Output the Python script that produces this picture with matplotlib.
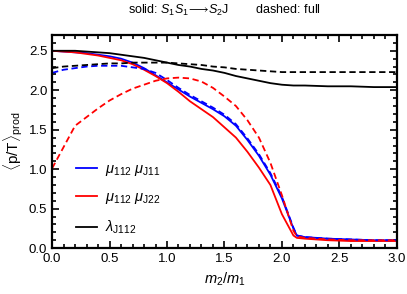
import numpy as np
from matplotlib import pyplot as plt
from matplotlib.ticker import MultipleLocator

plt.rcParams['font.family'] = ['Liberation Sans', 'DejaVu Sans']
plt.rcParams['mathtext.fontset'] = 'custom'
plt.rcParams['mathtext.rm'] = 'Liberation Sans'
plt.rcParams['mathtext.it'] = 'Liberation Sans:italic'
plt.rcParams['mathtext.bf'] = 'Liberation Sans:bold'

# mass ratio grid
m_ratio = [0.0, 0.1, 0.2, 0.3, 0.4, 0.5, 0.6, 0.7, 0.8, 0.9, 1.0, 1.1, 1.2, 1.3, 1.4,
           1.5, 1.6, 1.7, 1.8, 1.9, 2.0, 2.1, 2.13, 2.2, 2.4, 2.6, 2.8, 3.0]

# solid: S1S1 -> S2J
mu11_solid = [2.50, 2.49, 2.48, 2.47, 2.45, 2.43, 2.40, 2.35, 2.28, 2.19, 2.10, 2.01, 1.92, 1.84, 1.76,
              1.67, 1.55, 1.37, 1.17, 0.93, 0.63, 0.25, 0.16, 0.14, 0.12, 0.11, 0.10, 0.10]
mu22_solid = [2.50, 2.49, 2.48, 2.46, 2.44, 2.41, 2.38, 2.33, 2.26, 2.18, 2.09, 1.98, 1.86, 1.76, 1.66,
              1.53, 1.40, 1.22, 1.02, 0.80, 0.43, 0.16, 0.13, 0.12, 0.10, 0.09, 0.09, 0.09]
lam_solid = [2.50, 2.50, 2.50, 2.49, 2.48, 2.47, 2.45, 2.43, 2.41, 2.38, 2.35, 2.32, 2.30, 2.27, 2.25,
             2.22, 2.18, 2.15, 2.12, 2.09, 2.07, 2.06, 2.06, 2.06, 2.05, 2.05, 2.04, 2.04]

# dashed: full
mu11_full = [2.22, 2.26, 2.28, 2.30, 2.31, 2.31, 2.31, 2.29, 2.27, 2.22, 2.13, 2.03, 1.94, 1.86, 1.78,
             1.69, 1.57, 1.39, 1.19, 0.95, 0.65, 0.26, 0.16, 0.14, 0.12, 0.11, 0.10, 0.10]
mu22_full = [1.01, 1.28, 1.55, 1.66, 1.77, 1.87, 1.95, 2.02, 2.07, 2.12, 2.15, 2.16, 2.15, 2.11, 2.03,
             1.92, 1.80, 1.62, 1.40, 1.08, 0.67, 0.22, 0.15, 0.13, 0.11, 0.10, 0.10, 0.10]
lam_full = [2.28, 2.30, 2.31, 2.32, 2.33, 2.34, 2.34, 2.35, 2.35, 2.35, 2.35, 2.34, 2.33, 2.32, 2.30,
            2.29, 2.27, 2.26, 2.25, 2.24, 2.23, 2.23, 2.23, 2.23, 2.23, 2.23, 2.23, 2.23]

labels = [r'$\mu_{112}\ \mu_{\rm J11}$', r'$\mu_{112}\ \mu_{\rm J22}$', r'$\lambda_{\rm J112}$']
colors = ['blue', 'red', 'black']

fig = plt.figure(figsize=(4.07, 2.94), dpi=100)
ax = fig.add_axes([0.128, 0.156, 0.847, 0.725])

lw = 1.3
for yy, cc, ll in zip([mu11_solid, mu22_solid, lam_solid], colors, labels):
	ax.plot(m_ratio, yy, '-', color=cc, lw=lw, label=ll)
for yy, cc in zip([mu11_full, mu22_full, lam_full], colors):
	ax.plot(m_ratio, yy, '--', color=cc, lw=lw, dashes=(3.5, 2))

ax.set_xlim(0, 3)
ax.set_ylim(0, 2.7)
ax.xaxis.set_major_locator(MultipleLocator(0.5))
ax.xaxis.set_minor_locator(MultipleLocator(0.1))
ax.yaxis.set_major_locator(MultipleLocator(0.5))
ax.yaxis.set_minor_locator(MultipleLocator(0.1))
ax.tick_params(which='both', direction='in', top=True, right=True, labelsize=9.5, width=1.2)
ax.tick_params(which='major', length=5)
ax.tick_params(which='minor', length=3)
for sp in ax.spines.values():
	sp.set_linewidth(1.6)

ax.set_xlabel(r'$m_2/m_1$', fontsize=10.5)
ax.set_ylabel(r'$\langle$p/T$\rangle_{\rm prod}$', fontsize=11, labelpad=3)
fig.text(0.552, 0.965, r'solid: $S_1S_1\!\longrightarrow\! S_2$J        dashed: full',
	ha='center', va='center', fontsize=9)

ax.legend(loc='lower left', bbox_to_anchor=(0.03, -0.005), frameon=False, fontsize=10.5,
	handlelength=1.5, handletextpad=0.5, labelspacing=0.85)

fig.savefig('out.png', dpi=100)
